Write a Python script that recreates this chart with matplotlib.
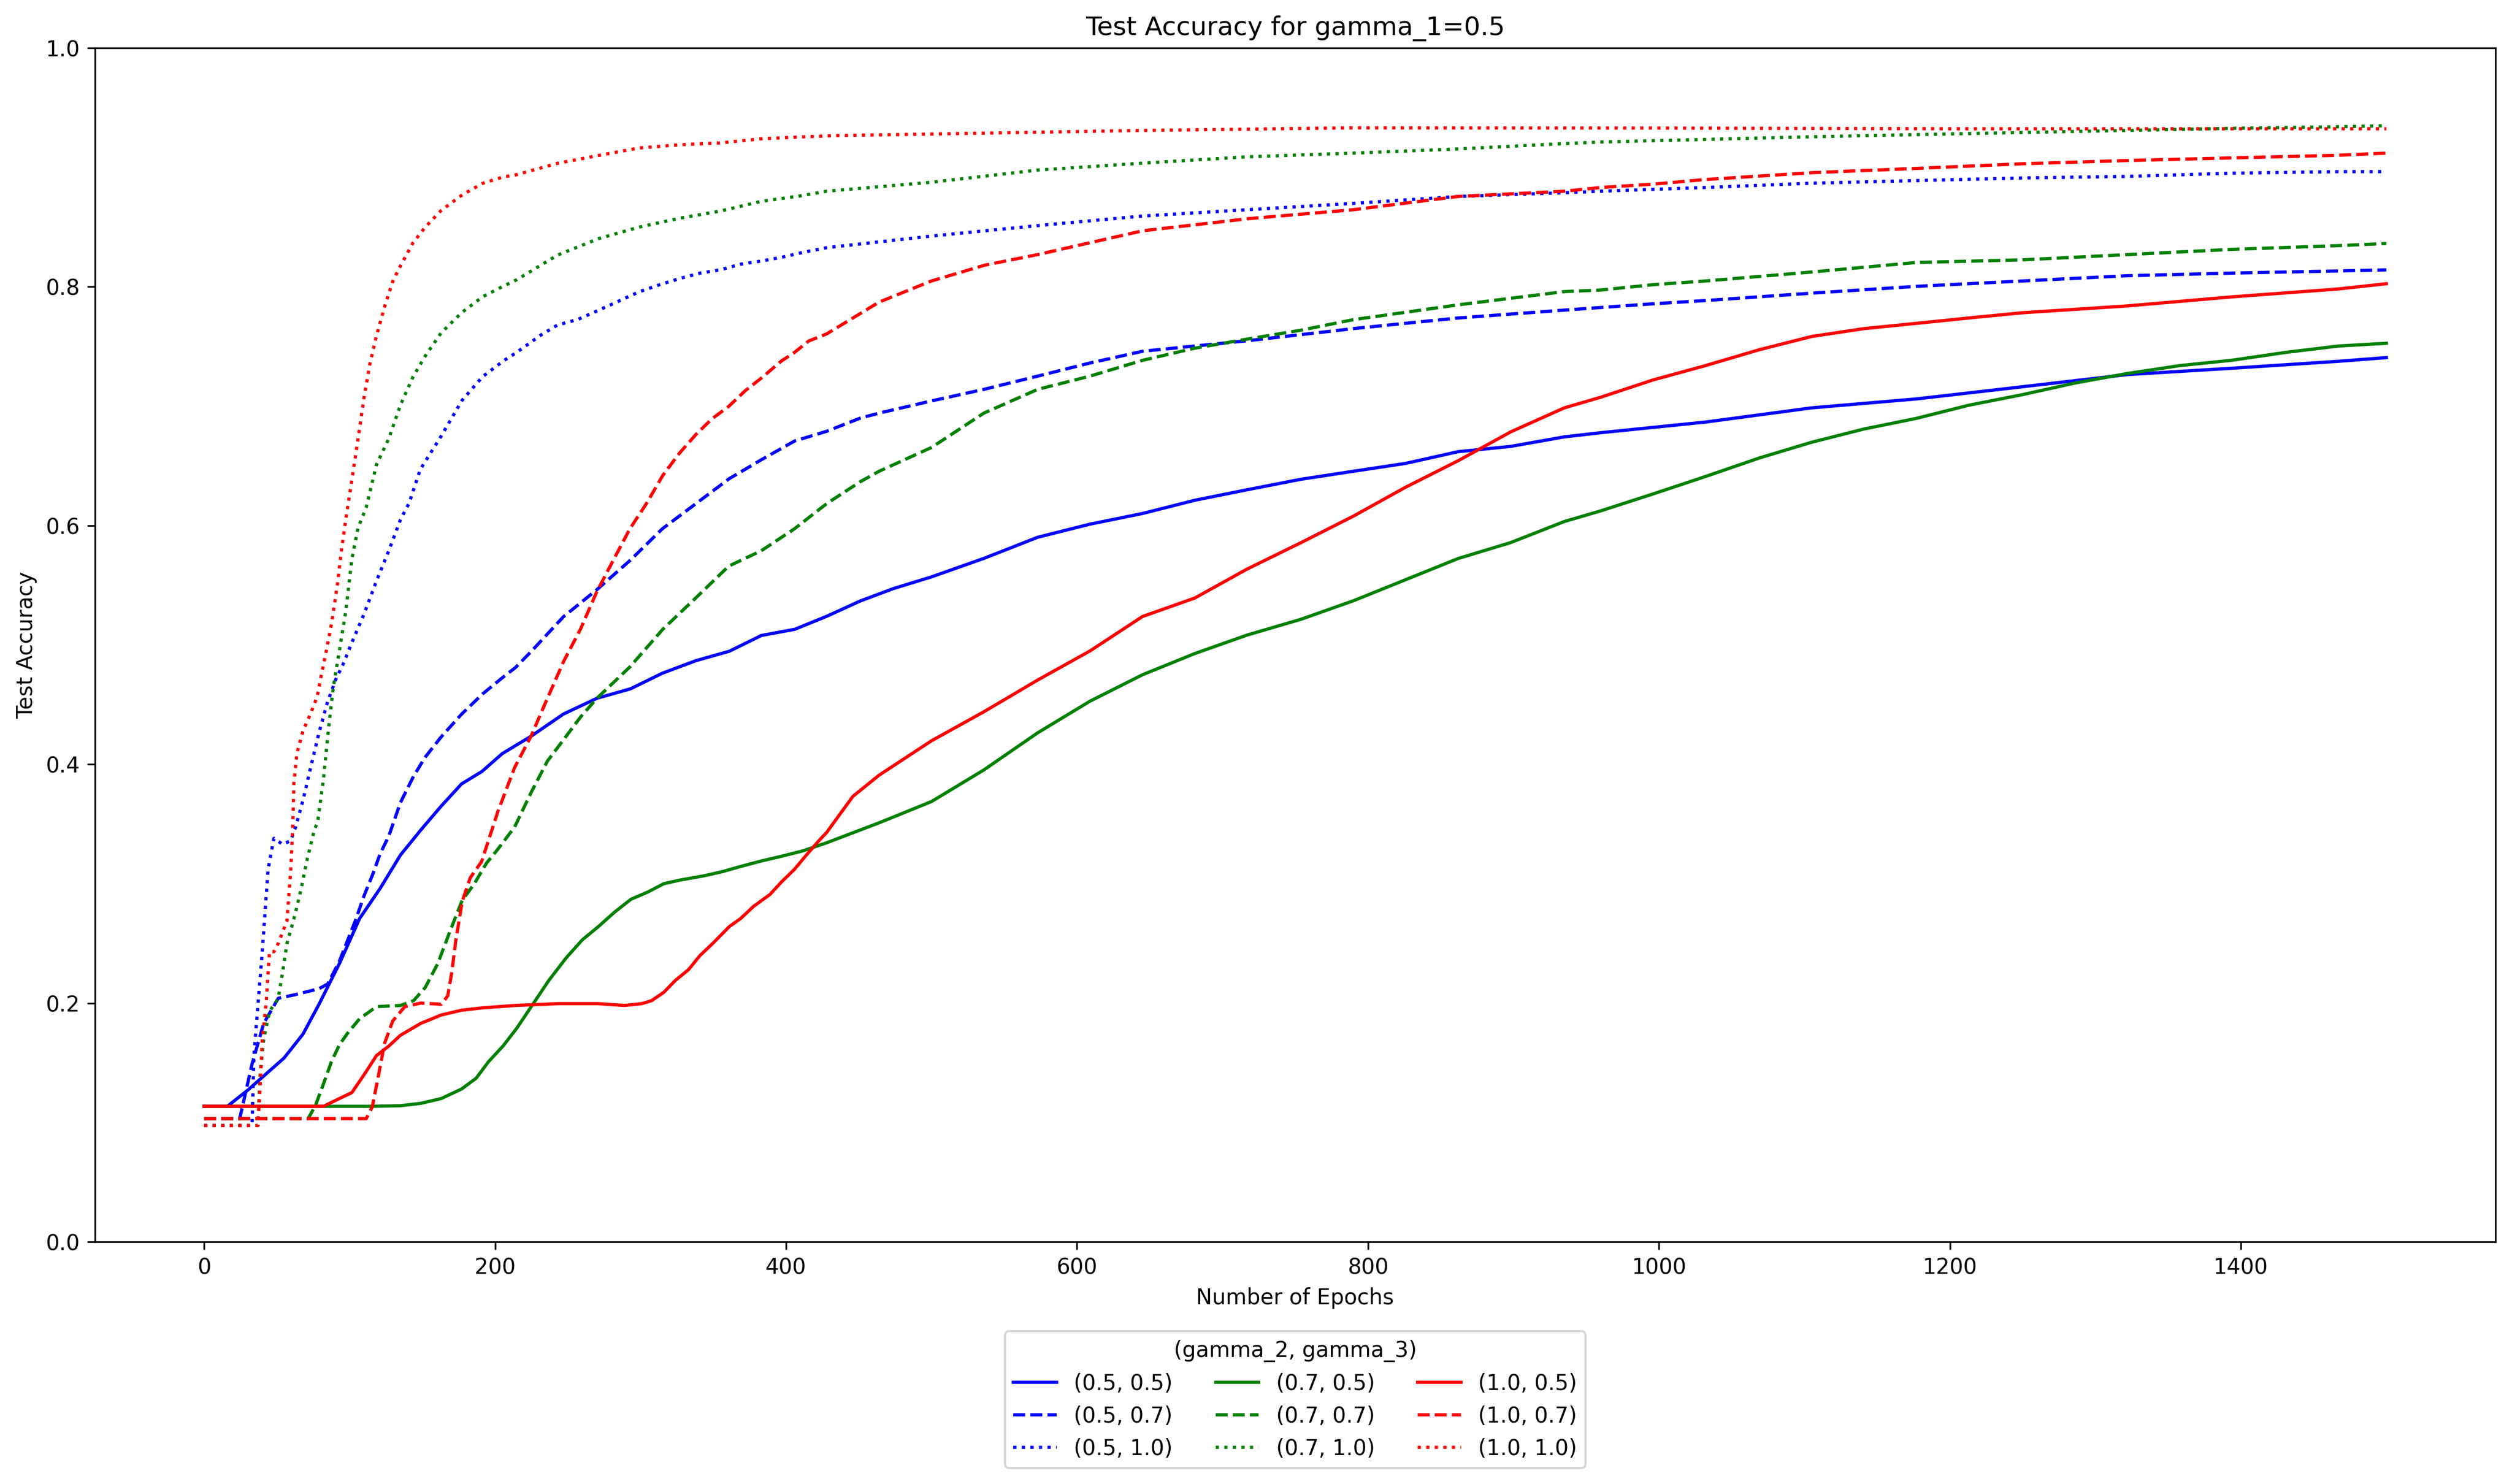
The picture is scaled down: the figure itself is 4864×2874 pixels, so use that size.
import numpy as np
import matplotlib
matplotlib.use("Agg")
import matplotlib.pyplot as plt

# values (epoch, accuracy)
ep_05_05 = [0, 16, 30, 55, 68, 79, 93, 107, 121, 135, 149, 163, 177, 191, 205, 225, 247, 270, 293,
            315, 338, 361, 383, 406, 428, 451, 474, 500, 536, 573, 609, 645, 681, 717, 754, 790, 826,
            862, 898, 935, 960, 1032, 1105, 1177, 1250, 1322, 1394, 1467, 1500]
acc_05_05 = [0.1135, 0.1135, 0.127, 0.154, 0.174, 0.199, 0.233, 0.271, 0.296, 0.324, 0.345, 0.365,
             0.3836, 0.394, 0.409, 0.4237, 0.4421, 0.4553, 0.4632, 0.4763, 0.4868, 0.4947, 0.5079,
             0.5131, 0.524, 0.5368, 0.5473, 0.557, 0.5725, 0.5902, 0.6012, 0.6101, 0.6212, 0.63,
             0.6388, 0.6455, 0.6521, 0.6619, 0.6663, 0.6743, 0.6778, 0.6867, 0.6986, 0.7061, 0.7163,
             0.7265, 0.7318, 0.7376, 0.7407]

ep_05_07 = [0, 24.5, 33, 41, 51, 62.5, 79, 85, 93, 104, 110, 116, 121, 127, 135, 144, 152, 163, 177,
            191.5, 205.5, 214, 225, 247, 270, 293, 315, 338, 361, 383, 406, 428, 451, 464, 500, 536,
            573, 609, 645, 717, 790, 862, 935, 996, 1032, 1105, 1177, 1250, 1322, 1394, 1467, 1500]
acc_05_07 = [0.1032, 0.1032, 0.149, 0.183, 0.204, 0.207, 0.212, 0.216, 0.235, 0.269, 0.29, 0.308,
             0.325, 0.340, 0.368, 0.390, 0.406, 0.423, 0.442, 0.459, 0.473, 0.481, 0.4947, 0.5236,
             0.5463, 0.571, 0.5973, 0.6183, 0.6393, 0.6551, 0.6709, 0.679, 0.69, 0.6942, 0.7044,
             0.7141, 0.7252, 0.7362, 0.746, 0.7548, 0.765, 0.7739, 0.7805, 0.7858, 0.7885, 0.7947,
             0.8004, 0.8049, 0.8093, 0.8115, 0.8133, 0.8142]

ep_05_10 = [0, 33, 34.3, 40, 44, 48, 54, 59.5, 63, 68, 73.6, 79, 84.8, 90.5, 96, 101.6, 110, 118.5,
            127, 135, 141, 148.6, 163, 177.4, 191.5, 205.5, 215, 232, 243, 257, 271, 285, 299, 313,
            327, 341, 355, 369, 383, 397, 411, 428, 500, 573, 645, 717, 790, 862, 935, 960, 1032,
            1105, 1177, 1250, 1322, 1394, 1467, 1500]
acc_05_10 = [0.0974, 0.0974, 0.157, 0.243, 0.312, 0.338, 0.333, 0.336, 0.3476, 0.37, 0.399, 0.4265,
             0.452, 0.471, 0.485, 0.502, 0.526, 0.5536, 0.579, 0.605, 0.619, 0.647, 0.675, 0.705,
             0.7248, 0.7377, 0.7452, 0.76, 0.768, 0.7727, 0.7803, 0.788, 0.7958, 0.8017, 0.807,
             0.8115, 0.8143, 0.819, 0.8216, 0.8247, 0.8287, 0.8328, 0.8425, 0.8513, 0.8593, 0.8646,
             0.8699, 0.8757, 0.8788, 0.8801, 0.8832, 0.8868, 0.889, 0.8912, 0.8925, 0.8952, 0.8965,
             0.8965]

ep_07_05 = [0, 115, 135, 149, 163, 177, 187, 195.6, 205.5, 215, 226, 237, 249, 260, 271, 282, 293.5,
            305, 316, 327, 344, 356, 369, 383, 397, 411.6, 428, 464, 500, 536, 573, 609, 645, 681,
            717, 754, 790, 826, 862, 898, 935, 960, 996, 1032, 1069, 1105, 1141, 1177, 1213, 1250,
            1286, 1322, 1358, 1394, 1431, 1467, 1500]
acc_07_05 = [0.1135, 0.1135, 0.114, 0.116, 0.12, 0.128, 0.137, 0.151, 0.164, 0.179, 0.199, 0.219,
             0.238, 0.253, 0.264, 0.276, 0.287, 0.293, 0.30, 0.303, 0.3067, 0.31, 0.3145, 0.319,
             0.323, 0.3275, 0.3343, 0.351, 0.3688, 0.3953, 0.4264, 0.4529, 0.475, 0.4928, 0.5083,
             0.5215, 0.537, 0.5547, 0.5724, 0.5857, 0.6034, 0.6123, 0.6265, 0.6411, 0.6566, 0.6698,
             0.6809, 0.6898, 0.7008, 0.7097, 0.7194, 0.7274, 0.734, 0.7385, 0.7451, 0.7504, 0.7527]

ep_07_07 = [0, 71.5, 76.5, 82, 87.6, 93, 98.8, 107, 118.5, 135, 144, 152, 160.6, 169, 177.4, 185.8,
            194, 202, 213.5, 224.8, 236, 247.4, 258.7, 270, 292.7, 315.3, 338, 360.6, 383, 405.8,
            428, 451, 464, 500, 536, 573, 609, 645, 681, 717, 754, 790, 862, 935, 960, 996, 1032,
            1105, 1177, 1250, 1322, 1394, 1467, 1500]
acc_07_07 = [0.1032, 0.1032, 0.114, 0.132, 0.151, 0.165, 0.175, 0.187, 0.197, 0.198, 0.202, 0.213,
             0.233, 0.26, 0.286, 0.30, 0.317, 0.329, 0.3475, 0.3764, 0.4027, 0.4211, 0.4395, 0.4553,
             0.4816, 0.5131, 0.5394, 0.566, 0.5789, 0.5973, 0.6184, 0.6367, 0.6455, 0.6654, 0.6942,
             0.7141, 0.7252, 0.7384, 0.7486, 0.7562, 0.7637, 0.7725, 0.7849, 0.796, 0.7973, 0.8018,
             0.8049, 0.8124, 0.8204, 0.8226, 0.827, 0.8314, 0.8345, 0.8363]

ep_07_10 = [0, 37, 38.4, 41, 45, 51, 54, 57, 62.5, 66.6, 70.8, 76, 78, 82, 86, 89, 93, 97.5, 101.6,
            105.8, 111.4, 118.5, 127, 135, 143.7, 152, 163, 177.4, 191.5, 205.5, 215, 243, 271, 299,
            327, 355, 383, 411, 428, 500, 573, 645, 717, 790, 862, 935, 960, 1032, 1105, 1177, 1250,
            1322, 1394, 1467, 1500]
acc_07_10 = [0.0974, 0.0974, 0.138, 0.17, 0.193, 0.204, 0.226, 0.25, 0.274, 0.295, 0.32, 0.346,
             0.351, 0.387, 0.435, 0.466, 0.495, 0.529, 0.572, 0.598, 0.615, 0.651, 0.673, 0.701,
             0.7248, 0.742, 0.7615, 0.7787, 0.7917, 0.8004, 0.806, 0.8266, 0.8403, 0.85, 0.8575,
             0.8635, 0.8716, 0.8764, 0.8801, 0.8876, 0.8978, 0.9036, 0.9089, 0.912, 0.9155, 0.92,
             0.9213, 0.9235, 0.9257, 0.9275, 0.9293, 0.931, 0.9328, 0.9341, 0.935]

ep_10_05 = [0, 82, 93, 101.6, 110, 118.5, 127, 135, 149, 163, 177, 191.4, 214, 243, 271, 289, 300.8,
            307.6, 316, 324, 333, 341, 349.7, 361, 369, 377.7, 389, 397, 405.8, 414, 422.6, 428,
            446, 464, 500, 536, 573, 609, 645, 681, 717, 754, 790, 826, 862, 898.5, 935, 960, 996,
            1032, 1069, 1105, 1141, 1177, 1213, 1250, 1322, 1394, 1467, 1500]
acc_10_05 = [0.1135, 0.1135, 0.12, 0.125, 0.14, 0.156, 0.164, 0.173, 0.183, 0.19, 0.194, 0.196,
             0.198, 0.1995, 0.1995, 0.198, 0.1995, 0.202, 0.209, 0.219, 0.228, 0.24, 0.25, 0.264,
             0.271, 0.281, 0.291, 0.3016, 0.312, 0.324, 0.336, 0.343, 0.3732, 0.3909, 0.4197, 0.444,
             0.4706, 0.495, 0.5238, 0.5393, 0.5636, 0.5857, 0.6079, 0.6322, 0.6543, 0.6787, 0.6986,
             0.7075, 0.722, 0.734, 0.7473, 0.7584, 0.765, 0.7694, 0.7739, 0.7783, 0.784, 0.7916,
             0.7982, 0.8026]

ep_10_07 = [0, 111.5, 115.6, 120, 124, 129.7, 138, 149, 163, 167.5, 170.3, 173, 177.4, 183, 190.8,
            202, 213.5, 224.8, 236, 247.4, 258.7, 270, 281.3, 292.7, 304, 315.3, 326.6, 338, 349,
            360.6, 372, 383, 397, 405.8, 415.6, 428, 464, 500, 536.5, 573, 645, 717, 790, 862, 935,
            960, 996, 1032, 1105, 1177, 1250, 1322, 1394, 1467, 1500]
acc_10_07 = [0.1032, 0.1032, 0.113, 0.14, 0.166, 0.185, 0.197, 0.2, 0.199, 0.206, 0.226, 0.252,
             0.285, 0.305, 0.3186, 0.3606, 0.3974, 0.4237, 0.4553, 0.4868, 0.5131, 0.5447, 0.571,
             0.5973, 0.6183, 0.642, 0.6604, 0.6762, 0.6893, 0.6998, 0.713, 0.7235, 0.738, 0.745,
             0.7546, 0.7606, 0.7872, 0.8049, 0.8181, 0.827, 0.8469, 0.857, 0.8646, 0.8757, 0.8801,
             0.8832, 0.886, 0.8899, 0.8956, 0.8992, 0.9031, 0.9058, 0.908, 0.9102, 0.912]

ep_10_10 = [0, 37, 38.5, 40, 42.6, 45, 48, 51, 57, 59.6, 61, 61.7, 63.8, 68, 73.6, 77.8, 80.6, 84,
            87.6, 91.8, 94.6, 98, 101.6, 105.9, 110, 114, 118.5, 124, 129.7, 135, 143.7, 152, 163,
            177.4, 191.5, 205.5, 215, 243, 271, 299, 327, 355, 383, 411, 435, 500, 645, 790, 996,
            1200, 1500]
acc_10_10 = [0.0974, 0.0974, 0.129, 0.17, 0.199, 0.243, 0.243, 0.25, 0.269, 0.312, 0.348, 0.3836,
             0.409, 0.428, 0.4436, 0.457, 0.4746, 0.495, 0.5176, 0.552, 0.581, 0.61, 0.6384, 0.673,
             0.7076, 0.7356, 0.759, 0.783, 0.8046, 0.8176, 0.837, 0.85, 0.864, 0.877, 0.8867, 0.892,
             0.894, 0.9035, 0.91, 0.9163, 0.919, 0.9206, 0.924, 0.9256, 0.9267, 0.928, 0.931, 0.9332,
             0.933, 0.9324, 0.9324]

series = [
    ("(0.5, 0.5)", ep_05_05, acc_05_05, 'b', '-'),
    ("(0.5, 0.7)", ep_05_07, acc_05_07, 'b', '--'),
    ("(0.5, 1.0)", ep_05_10, acc_05_10, 'b', ':'),
    ("(0.7, 0.5)", ep_07_05, acc_07_05, 'g', '-'),
    ("(0.7, 0.7)", ep_07_07, acc_07_07, 'g', '--'),
    ("(0.7, 1.0)", ep_07_10, acc_07_10, 'g', ':'),
    ("(1.0, 0.5)", ep_10_05, acc_10_05, 'r', '-'),
    ("(1.0, 0.7)", ep_10_07, acc_10_07, 'r', '--'),
    ("(1.0, 1.0)", ep_10_10, acc_10_10, 'r', ':'),
]

fig = plt.figure(figsize=(4864/300, 2874/300), dpi=300)
ax = fig.add_axes([0.0378, 0.1632, 0.9556, 0.8044])

for label, ep, acc, c, ls in series:
    ax.plot(ep, acc, color=c, linestyle=ls, label=label)

ax.set_ylim(0, 1)
ax.set_xlabel('Number of Epochs')
ax.set_ylabel('Test Accuracy')
ax.set_title('Test Accuracy for gamma_1=0.5')
ax.legend(title='(gamma_2, gamma_3)', ncol=3, loc='upper center',
          bbox_to_anchor=(0.5, -0.066))

fig.savefig('out.png', dpi=300)
